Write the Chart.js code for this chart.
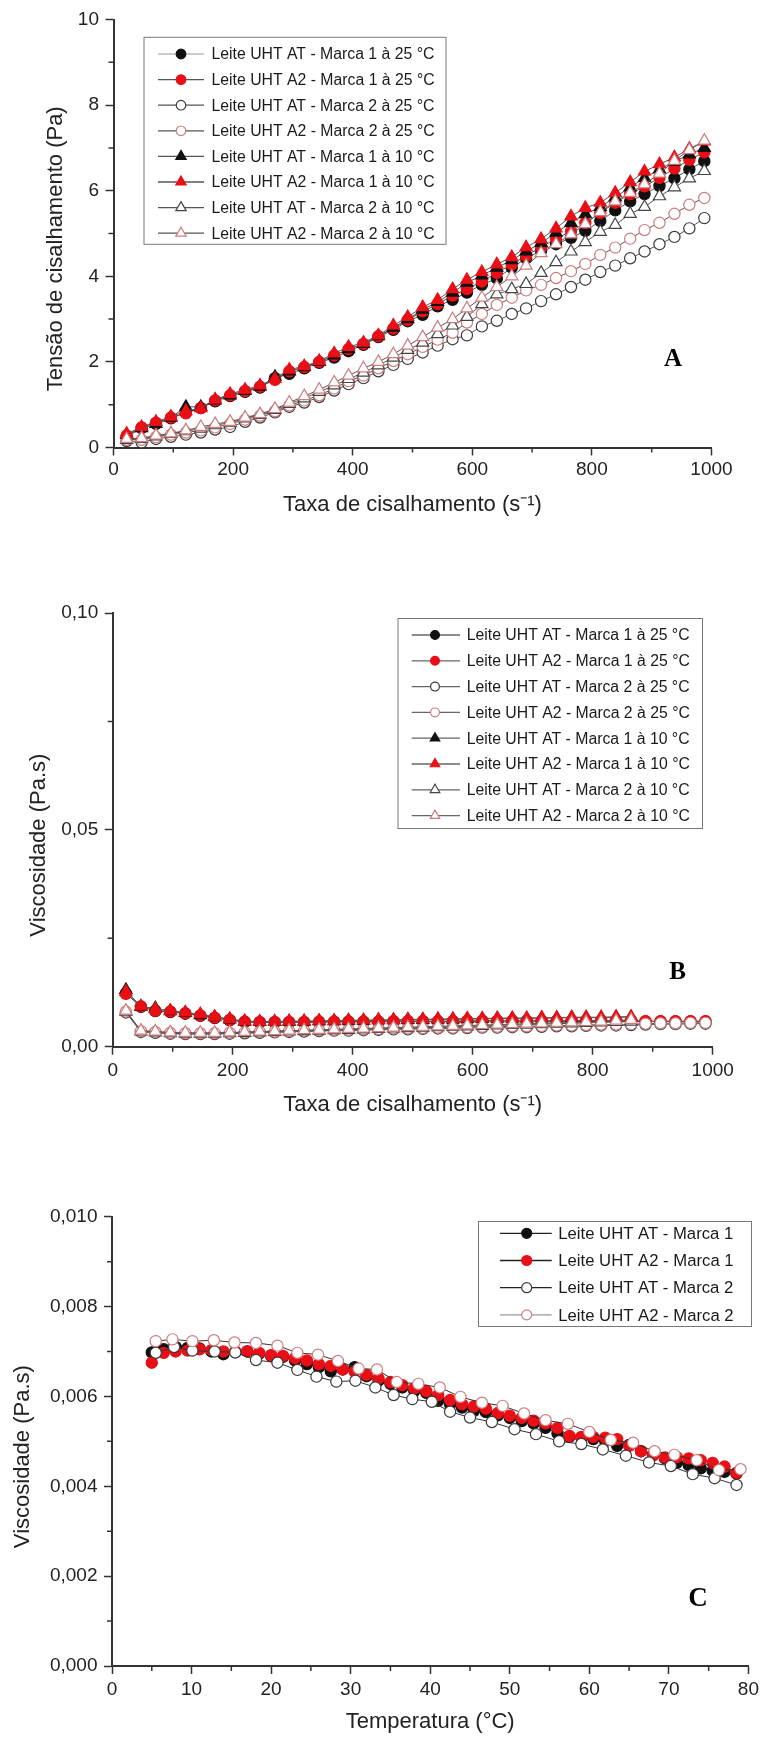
<!DOCTYPE html>
<html>
<head>
<meta charset="utf-8">
<script src="https://cdn.jsdelivr.net/npm/chart.js"></script>
<style>
  html, body { margin: 0; padding: 0; background: #fff; }
  body { width: 763px; height: 1738px; position: relative; overflow: hidden; }
  canvas { position: absolute; left: 0; }
</style>
</head>
<body>
<canvas id="chartA" width="763" height="540" style="top:0px"></canvas>
<canvas id="chartB" width="763" height="580" style="top:560px"></canvas>
<canvas id="chartC" width="763" height="578" style="top:1160px"></canvas>
<script>
/* ═══ DADOS ═══ */

const labels8 = [
  'Leite UHT AT - Marca 1 à 25 °C', 'Leite UHT A2 - Marca 1 à 25 °C',
  'Leite UHT AT - Marca 2 à 25 °C', 'Leite UHT A2 - Marca 2 à 25 °C',
  'Leite UHT AT - Marca 1 à 10 °C', 'Leite UHT A2 - Marca 1 à 10 °C',
  'Leite UHT AT - Marca 2 à 10 °C', 'Leite UHT A2 - Marca 2 à 10 °C'
];
const labels4 = ['Leite UHT AT - Marca 1', 'Leite UHT A2 - Marca 1', 'Leite UHT AT - Marca 2', 'Leite UHT A2 - Marca 2'];

// taxa de cisalhamento (s-1)
const shearRate = [22, 47, 71, 96, 121, 146, 170, 195, 220, 245, 270, 294, 319, 344, 369, 393, 418, 443, 468, 492,
  517, 542, 567, 591, 616, 641, 666, 690, 715, 740, 765, 789, 814, 839, 864, 888, 913, 938, 963, 988];

// A: tensão de cisalhamento (Pa)
const tauAT1_25 = [0.25, 0.45, 0.55, 0.68, 0.82, 0.92, 1.08, 1.2, 1.3, 1.4, 1.62, 1.72, 1.85, 1.98, 2.1, 2.25, 2.4, 2.58, 2.75, 2.95,
  3.1, 3.3, 3.45, 3.62, 3.8, 3.95, 4.2, 4.42, 4.6, 4.75, 4.9, 5.06, 5.29, 5.54, 5.75, 5.92, 6.11, 6.29, 6.5, 6.69];
const tauA21_25 = [0.28, 0.47, 0.58, 0.7, 0.8, 0.92, 1.1, 1.22, 1.32, 1.42, 1.58, 1.78, 1.88, 2.0, 2.15, 2.3, 2.42, 2.6, 2.78, 2.98,
  3.18, 3.35, 3.55, 3.7, 3.88, 4.08, 4.28, 4.48, 4.68, 4.88, 5.05, 5.25, 5.48, 5.72, 5.92, 6.1, 6.3, 6.52, 6.72, 6.9];
const tauAT2_25 = [0.15, 0.12, 0.2, 0.25, 0.3, 0.35, 0.42, 0.48, 0.6, 0.7, 0.82, 0.95, 1.05, 1.18, 1.33, 1.48, 1.62, 1.78, 1.93, 2.07,
  2.22, 2.38, 2.53, 2.62, 2.83, 2.96, 3.12, 3.25, 3.42, 3.58, 3.75, 3.92, 4.1, 4.25, 4.42, 4.58, 4.75, 4.92, 5.12, 5.36];
const tauA22_25 = [0.18, 0.18, 0.24, 0.3, 0.35, 0.4, 0.47, 0.55, 0.65, 0.74, 0.85, 0.98, 1.1, 1.22, 1.38, 1.55, 1.68, 1.85, 2.02, 2.18,
  2.35, 2.52, 2.68, 2.92, 3.12, 3.33, 3.5, 3.67, 3.8, 3.96, 4.12, 4.29, 4.5, 4.67, 4.88, 5.08, 5.25, 5.46, 5.67, 5.83];
const tauAT1_10 = [0.3, 0.45, 0.55, 0.7, 0.95, 0.95, 1.1, 1.22, 1.32, 1.42, 1.65, 1.78, 1.88, 2.0, 2.15, 2.3, 2.42, 2.6, 2.8, 3.0,
  3.22, 3.4, 3.62, 3.85, 4.02, 4.2, 4.38, 4.58, 4.78, 5.02, 5.25, 5.45, 5.62, 5.85, 6.08, 6.3, 6.5, 6.68, 6.85, 7.0];
const tauA21_10 = [0.32, 0.48, 0.6, 0.72, 0.85, 0.92, 1.12, 1.25, 1.35, 1.45, 1.6, 1.82, 1.9, 2.02, 2.2, 2.35, 2.45, 2.62, 2.85, 3.05,
  3.28, 3.45, 3.7, 3.92, 4.1, 4.28, 4.45, 4.68, 4.87, 5.12, 5.4, 5.6, 5.72, 5.95, 6.2, 6.45, 6.62, 6.78, 6.98, 7.15];
const tauAT2_10 = [0.18, 0.2, 0.26, 0.32, 0.38, 0.44, 0.52, 0.58, 0.68, 0.76, 0.88, 1.02, 1.15, 1.3, 1.45, 1.6, 1.75, 1.92, 2.1, 2.28,
  2.45, 2.65, 2.85, 3.05, 3.35, 3.58, 3.7, 3.82, 4.08, 4.33, 4.58, 4.8, 5.04, 5.2, 5.46, 5.62, 5.87, 6.08, 6.29, 6.46];
const tauA22_10 = [0.2, 0.22, 0.28, 0.33, 0.4, 0.48, 0.55, 0.6, 0.7, 0.78, 0.9, 1.05, 1.2, 1.35, 1.52, 1.68, 1.85, 2.0, 2.18, 2.38,
  2.58, 2.8, 3.0, 3.25, 3.5, 3.75, 4.0, 4.25, 4.54, 4.75, 4.98, 5.22, 5.5, 5.75, 5.95, 6.15, 6.4, 6.7, 6.95, 7.17];

// B: viscosidade (Pa.s) x taxa de cisalhamento
const etaAT1_25 = [0.0123, 0.0092, 0.0082, 0.0080, 0.0076, 0.0071, 0.0066, 0.0061, 0.0057, 0.0056, 0.0056, 0.0056, 0.0056, 0.0056,
  0.0057, 0.0057, 0.0057, 0.0057, 0.0058, 0.0058, 0.0058, 0.0058, 0.0058, 0.0058, 0.0059, 0.0059, 0.0059, 0.0059, 0.0059, 0.0059,
  0.0059, 0.0059, 0.0058, 0.0058, 0.0058, 0.0058, 0.0058, 0.0058, 0.0058, 0.0058];
const etaA21_25 = [0.0122, 0.0093, 0.0083, 0.0081, 0.0077, 0.0072, 0.0067, 0.0062, 0.0058, 0.0057, 0.0057, 0.0057, 0.0057, 0.0058,
  0.0058, 0.0058, 0.0058, 0.0058, 0.0059, 0.0059, 0.0059, 0.0059, 0.0059, 0.0060, 0.0060, 0.0060, 0.0060, 0.0060, 0.0060, 0.0060,
  0.0060, 0.0060, 0.0060, 0.0060, 0.0060, 0.0059, 0.0059, 0.0059, 0.0059, 0.0059];
const etaAT2_25 = [0.0079, 0.0034, 0.0032, 0.0030, 0.0029, 0.0029, 0.0029, 0.0030, 0.0031, 0.0032, 0.0033, 0.0034, 0.0035, 0.0036,
  0.0037, 0.0037, 0.0038, 0.0039, 0.0040, 0.0040, 0.0041, 0.0042, 0.0042, 0.0043, 0.0044, 0.0044, 0.0045, 0.0045, 0.0046, 0.0047,
  0.0047, 0.0048, 0.0049, 0.0049, 0.0050, 0.0051, 0.0052, 0.0052, 0.0053, 0.0053];
const etaA22_25 = [0.0081, 0.0036, 0.0034, 0.0032, 0.0031, 0.0031, 0.0031, 0.0032, 0.0033, 0.0034, 0.0035, 0.0036, 0.0037, 0.0038,
  0.0039, 0.0039, 0.0040, 0.0041, 0.0042, 0.0042, 0.0043, 0.0044, 0.0044, 0.0045, 0.0046, 0.0046, 0.0047, 0.0047, 0.0048, 0.0049,
  0.0049, 0.0050, 0.0051, 0.0051, 0.0052, 0.0053, 0.0054, 0.0054, 0.0055, 0.0055];
const etaAT1_10 = [0.0131, 0.0092, 0.0089, 0.0082, 0.0078, 0.0073, 0.0068, 0.0063, 0.0058, 0.0057, 0.0057, 0.0058, 0.0058, 0.0059,
  0.0059, 0.0060, 0.0060, 0.0061, 0.0061, 0.0062, 0.0062, 0.0063, 0.0063, 0.0064, 0.0064, 0.0065, 0.0065, 0.0065, 0.0066, 0.0066,
  0.0067, 0.0067, 0.0067, 0.0068, 0.0068];
const etaA21_10 = [0.0127, 0.0093, 0.0087, 0.0083, 0.0079, 0.0075, 0.0069, 0.0064, 0.0059, 0.0058, 0.0058, 0.0059, 0.0059, 0.0060,
  0.0060, 0.0061, 0.0061, 0.0062, 0.0062, 0.0063, 0.0063, 0.0064, 0.0064, 0.0065, 0.0065, 0.0066, 0.0066, 0.0066, 0.0067, 0.0067,
  0.0068, 0.0068, 0.0068, 0.0069, 0.0069];
const etaAT2_10 = [0.0081, 0.0035, 0.0033, 0.0031, 0.0030, 0.0030, 0.0030, 0.0031, 0.0032, 0.0033, 0.0034, 0.0035, 0.0036, 0.0037,
  0.0038, 0.0039, 0.0040, 0.0041, 0.0042, 0.0043, 0.0044, 0.0045, 0.0046, 0.0047, 0.0048, 0.0049, 0.0050, 0.0051, 0.0052, 0.0053,
  0.0054, 0.0055, 0.0056, 0.0057, 0.0058];
const etaA22_10 = [0.0083, 0.0037, 0.0035, 0.0033, 0.0032, 0.0032, 0.0032, 0.0033, 0.0034, 0.0035, 0.0036, 0.0037, 0.0038, 0.0039,
  0.0040, 0.0041, 0.0042, 0.0043, 0.0044, 0.0045, 0.0046, 0.0047, 0.0048, 0.0049, 0.0050, 0.0051, 0.0052, 0.0053, 0.0054, 0.0055,
  0.0056, 0.0057, 0.0058, 0.0060, 0.0062];

// C: viscosidade (Pa.s) x temperatura (°C)
const tempM1 = [5.0, 6.5, 8.0, 9.5, 11.0, 12.5, 14.0, 15.5, 17.0, 18.5, 20.0, 21.5, 23.0, 24.5, 26.0, 27.5, 29.0, 30.5, 32.0, 33.5,
  35.0, 36.5, 38.0, 39.5, 41.0, 42.5, 44.0, 45.5, 47.0, 48.5, 50.0, 51.5, 53.0, 54.5, 56.0, 57.5, 59.0, 60.5, 62.0, 63.5,
  65.0, 66.5, 68.0, 69.5, 71.0, 72.5, 74.0, 75.5, 77.0, 78.5];
const viscAT1 = [0.00698, 0.00705, 0.00710, 0.00708, 0.00707, 0.00700, 0.00694, 0.00698, 0.00700, 0.00695, 0.00690, 0.00688,
  0.00680, 0.00672, 0.00665, 0.00656, 0.00660, 0.00665, 0.00645, 0.00635, 0.00628, 0.00620, 0.00612, 0.00608, 0.00590, 0.00582,
  0.00575, 0.00568, 0.00565, 0.00558, 0.00552, 0.00545, 0.00540, 0.00530, 0.00518, 0.00510, 0.00508, 0.00505, 0.00500, 0.00490,
  0.00492, 0.00478, 0.00470, 0.00462, 0.00452, 0.00447, 0.00440, 0.00435, 0.00432, 0.00428];
const viscA21 = [0.00675, 0.00697, 0.00700, 0.00702, 0.00705, 0.00703, 0.00700, 0.00700, 0.00700, 0.00697, 0.00692, 0.00690,
  0.00685, 0.00680, 0.00672, 0.00668, 0.00660, 0.00655, 0.00648, 0.00640, 0.00632, 0.00625, 0.00618, 0.00612, 0.00603, 0.00592,
  0.00583, 0.00578, 0.00573, 0.00563, 0.00557, 0.00552, 0.00546, 0.00540, 0.00530, 0.00512, 0.00510, 0.00510, 0.00508, 0.00505,
  0.00490, 0.00478, 0.00468, 0.00464, 0.00465, 0.00462, 0.00458, 0.00452, 0.00444, 0.00430];
const tempAT2 = [5.5, 7.8, 10.1, 12.9, 15.5, 18.1, 20.8, 23.3, 25.7, 28.2, 30.6, 33.1, 35.4, 37.75, 40.2, 42.5, 45.0, 47.75, 50.6,
  53.3, 56.2, 59.0, 61.7, 64.6, 67.5, 70.25, 73.0, 75.75, 78.5];
const viscAT2 = [0.00697, 0.00710, 0.00702, 0.00700, 0.00698, 0.00681, 0.00675, 0.00659, 0.00644, 0.00633, 0.00635, 0.00620,
  0.00603, 0.00594, 0.00588, 0.00566, 0.00553, 0.00543, 0.00527, 0.00516, 0.00500, 0.00494, 0.00482, 0.00468, 0.00453, 0.00445,
  0.00427, 0.00418, 0.00403];
const tempA22 = [5.5, 7.6, 10.1, 12.8, 15.4, 18.1, 20.8, 23.3, 25.9, 28.4, 31.0, 33.3, 35.8, 38.5, 41.2, 43.8, 46.5, 49.1, 51.8,
  54.5, 57.3, 60.0, 62.7, 65.5, 68.2, 70.7, 73.5, 76.3, 79.0];
const viscA22 = [0.00723, 0.00727, 0.00723, 0.00725, 0.00720, 0.00719, 0.00713, 0.00697, 0.00693, 0.00679, 0.00662, 0.00660,
  0.00632, 0.00628, 0.00620, 0.00599, 0.00586, 0.00579, 0.00562, 0.00547, 0.00539, 0.00521, 0.00503, 0.00497, 0.00478, 0.00470,
  0.00458, 0.00436, 0.00438];

/* ═══ ESTILO ═══ */

const FONT = "'Liberation Sans', Arial, sans-serif";
Chart.defaults.font.family = FONT;
Chart.defaults.color = '#222';

const RED = '#ea0f16', PINK = '#cf7c7c', INK = '#333';
const marks = [
  { shape: 'circle', bg: '#111', bd: '#111' },
  { shape: 'circle', bg: RED, bd: RED },
  { shape: 'circle', bg: '#fff', bd: '#3a3a3a' },
  { shape: 'circle', bg: '#fff', bd: PINK },
  { shape: 'triangle', bg: '#111', bd: '#111' },
  { shape: 'triangle', bg: RED, bd: RED },
  { shape: 'triangle', bg: '#fff', bd: '#444' },
  { shape: 'triangle', bg: '#fff', bd: PINK }
];

function makeSet(label, xs, ys, m, i, legLine, lineColor) {
  return {
    label,
    data: ys.map((v, k) => ({ x: xs[k], y: v })),
    showLine: true, borderColor: lineColor, borderWidth: 1, tension: 0,
    pointStyle: m.shape, pointRadius: m.shape === 'triangle' ? 7 : 5.6,
    pointBackgroundColor: m.bg, pointBorderColor: m.bd, pointBorderWidth: 1.2,
    clip: false, order: -i, legendLine: legLine
  };
}

/* ─── plugins ─── */
const panelLegend = {
  id: 'panelLegend',
  afterDatasetsDraw(chart, args, o) {
    const ctx = chart.ctx;
    ctx.save();
    ctx.strokeStyle = '#777'; ctx.lineWidth = 1;
    ctx.strokeRect(o.x + 0.5, o.y + 0.5, o.w, o.h);
    chart.data.datasets.forEach((ds, i) => {
      const y = o.row0 + i * o.rowH;
      ctx.strokeStyle = ds.legendLine; ctx.lineWidth = 1.3;
      ctx.beginPath(); ctx.moveTo(o.lineX0, y); ctx.lineTo(o.lineX1, y); ctx.stroke();
      ctx.fillStyle = ds.pointBackgroundColor;
      ctx.strokeStyle = ds.pointBorderColor;
      ctx.lineWidth = 1.2;
      Chart.helpers.drawPoint(ctx, {
        pointStyle: ds.pointStyle, rotation: 0, borderWidth: 1.2,
        radius: ds.pointStyle === 'triangle' ? o.mark * 1.25 : o.mark
      }, o.markX, y);
      ctx.fillStyle = '#1a1a1a';
      ctx.font = o.font;
      ctx.textAlign = 'left'; ctx.textBaseline = 'middle';
      ctx.fillText(ds.label, o.textX, y + 1);
    });
    ctx.restore();
  }
};

const panelTag = {
  id: 'panelTag',
  afterDraw(chart, args, o) {
    const ctx = chart.ctx;
    ctx.save();
    ctx.font = o.font; ctx.fillStyle = '#000';
    ctx.textAlign = 'center'; ctx.textBaseline = 'middle';
    ctx.fillText(o.text, o.x, o.y);
    ctx.restore();
  }
};

const minorTicks = {
  id: 'minorTicks',
  afterDraw(chart, args, o) {
    const { ctx, chartArea } = chart;
    const xs = chart.scales.x, ys = chart.scales.y;
    const mids = s => s.ticks.slice(1).map((t, i) => (t.value + s.ticks[i].value) / 2);
    ctx.save();
    ctx.strokeStyle = INK; ctx.lineWidth = 1.5;
    ctx.beginPath();
    mids(xs).forEach(v => { const p = xs.getPixelForValue(v); ctx.moveTo(p, chartArea.bottom); ctx.lineTo(p, chartArea.bottom + o.len); });
    mids(ys).forEach(v => { const p = ys.getPixelForValue(v); ctx.moveTo(chartArea.left, p); ctx.lineTo(chartArea.left - o.len, p); });
    ctx.stroke();
    ctx.restore();
  }
};

function panel(id, cfg) {
  const canvas = document.getElementById(id);
  const W = canvas.width, H = canvas.height, a = cfg.area;
  const axis = (c) => ({
    type: 'linear', min: c.min, max: c.max,
    ticks: { stepSize: c.step, padding: c.pad, color: '#222', font: { size: 19 }, maxRotation: 0, autoSkip: false, callback: c.fmt },
    grid: { display: true, drawOnChartArea: false, drawTicks: true, tickLength: 8, color: INK, tickColor: INK, tickWidth: 1.5 },
    border: { display: true, color: INK, width: 2 },
    title: { display: true, text: c.title, color: '#222', font: { size: 22 }, padding: c.tpad },
    afterFit: c.fit
  });
  return new Chart(canvas, {
    type: 'scatter',
    data: { datasets: cfg.datasets },
    options: {
      responsive: false, animation: false, devicePixelRatio: 1,
      layout: { padding: { left: 0, top: a.top, right: W - a.right, bottom: 0 } },
      plugins: {
        legend: { display: false }, tooltip: { enabled: false },
        panelLegend: cfg.legend, panelTag: cfg.tag, minorTicks: { len: 5 }
      },
      scales: {
        x: axis(Object.assign({ pad: 3, fit: s => { s.height = H - a.bottom; } }, cfg.x)),
        y: axis(Object.assign({ pad: 6.5, fit: s => { s.width = a.left; } }, cfg.y))
      }
    },
    plugins: [panelLegend, panelTag, minorTicks]
  });
}

const comma = d => v => v.toFixed(d).replace('.', ',');
const XTITLE = 'Taxa de cisalhamento (s\u207B\u00B9)';

/* ═══ A ═══ */
const tauSets = [tauAT1_25, tauA21_25, tauAT2_25, tauA22_25, tauAT1_10, tauA21_10, tauAT2_10, tauA22_10];
panel('chartA', {
  area: { left: 113.5, right: 711.5, top: 19.5, bottom: 447.5 },
  datasets: labels8.map((l, i) => makeSet(l, shearRate, tauSets[i], marks[i], i, i === 0 ? '#bbb' : '#555', '#555')),
  x: { min: 0, max: 1000, step: 200, title: XTITLE, tpad: { top: 0, bottom: 21.5 }, fmt: v => v },
  y: { min: 0, max: 10, step: 2, title: 'Tensão de cisalhamento (Pa)     ', tpad: { top: 42.8, bottom: 0 }, fmt: v => v },
  legend: { x: 143.5, y: 36.8, w: 302, h: 207, row0: 54, rowH: 25.6, lineX0: 158, lineX1: 204, markX: 181, textX: 211.5, mark: 4.8, font: '15.8px ' + FONT },
  tag: { text: 'A', x: 673, y: 360, font: 'bold 25px "Liberation Serif", "Times New Roman", serif' }
});

/* ═══ B ═══ */
const etaSets = [etaAT1_25, etaA21_25, etaAT2_25, etaA22_25, etaAT1_10, etaA21_10, etaAT2_10, etaA22_10];
panel('chartB', {
  area: { left: 112.7, right: 712.7, top: 53, bottom: 486.7 },
  datasets: labels8.map((l, i) => makeSet(l, shearRate, etaSets[i], marks[i], i, '#666', '#555')),
  x: { min: 0, max: 1000, step: 200, pad: 4.5, title: XTITLE, tpad: { top: 0, bottom: 21.5 }, fmt: v => v },
  y: { min: 0, max: 0.1, step: 0.05, title: 'Viscosidade (Pa.s)     ', tpad: { top: 25.8, bottom: 0 }, fmt: comma(2) },
  legend: { x: 397.5, y: 58, w: 304.5, h: 210, row0: 75, rowH: 25.8, lineX0: 411.7, lineX1: 460, markX: 435, textX: 466.7, mark: 4.4, font: '15.8px ' + FONT },
  tag: { text: 'B', x: 677.6, y: 413, font: 'bold 25px "Liberation Serif", "Times New Roman", serif' }
});

/* ═══ C ═══ */
const cX = [tempM1, tempM1, tempAT2, tempA22];
const cY = [viscAT1, viscA21, viscAT2, viscA22];
panel('chartC', {
  area: { left: 112, right: 752, top: 56.7, bottom: 506 },
  datasets: labels4.map((l, i) => makeSet(l, cX[i], cY[i], marks[i], i, i === 3 ? '#999' : '#222', '#333')),
  x: { min: 0, max: 80, step: 10, pad: 4, title: 'Temperatura (°C)', tpad: { top: 0, bottom: 3 }, fmt: v => v },
  y: { min: 0, max: 0.010, step: 0.002, title: 'Viscosidade (Pa.s)     ', tpad: { top: 9.8, bottom: 0 }, fmt: comma(3) },
  legend: { x: 478, y: 61, w: 273, h: 105, row0: 73.3, rowH: 27.2, lineX0: 500, lineX1: 551.7, markX: 526.7, textX: 558.3, mark: 5, font: '16.7px ' + FONT },
  tag: { text: 'C', x: 698, y: 439, font: 'bold 27px "Liberation Serif", "Times New Roman", serif' }
});
</script>
</body>
</html>
